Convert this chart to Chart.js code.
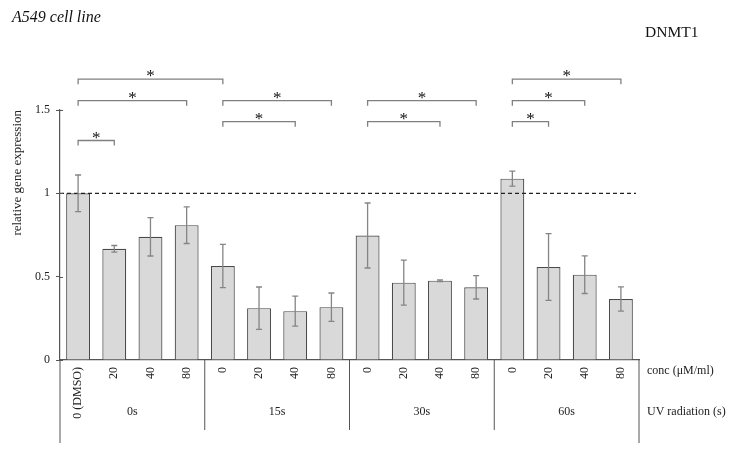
<!DOCTYPE html>
<html>
<head>
<meta charset="utf-8">
<script src="https://cdn.jsdelivr.net/npm/chart.js@4.4.1/dist/chart.umd.min.js"></script>
<style>
body { margin: 0; background: #fff; }
</style>
</head>
<body>
<canvas id="chart" width="737" height="452"></canvas>
<script>
// data
const concLabels = ['0 (DMSO)', '20', '40', '80', '0', '20', '40', '80', '0', '20', '40', '80', '0', '20', '40', '80'];
const uvGroups = ['0s', '15s', '30s', '60s'];
const expression = [1.00, 0.667, 0.739, 0.809, 0.564, 0.311, 0.293, 0.317, 0.747, 0.464, 0.476, 0.436, 1.088, 0.558, 0.512, 0.366];
const errors = [0.11, 0.02, 0.115, 0.11, 0.13, 0.127, 0.09, 0.085, 0.195, 0.135, 0.005, 0.07, 0.045, 0.2, 0.113, 0.073];
const yTicks = [0, 0.5, 1, 1.5];
const refLevel = 1;
// significance brackets: [from bar, to bar, height]
const brackets = [
    [0, 4, 1.685], [0, 3, 1.556], [0, 1, 1.317],
    [4, 7, 1.556], [4, 6, 1.43],
    [8, 11, 1.556], [8, 10, 1.43],
    [12, 15, 1.685], [12, 14, 1.556], [12, 13, 1.43]
];

const serif = "'Liberation Serif', 'DejaVu Serif', serif";

const extras = {
    id: 'extras',
    afterDatasetsDraw(chart) {
        const ctx = chart.ctx;
        const a = chart.chartArea;
        const x = chart.scales.x, y = chart.scales.y;
        const bars = chart.getDatasetMeta(0).data;
        ctx.save();

        // reference line
        ctx.strokeStyle = '#222';
        ctx.lineWidth = 1.3;
        ctx.setLineDash([4, 3]);
        ctx.beginPath();
        ctx.moveTo(a.left, y.getPixelForValue(refLevel));
        ctx.lineTo(a.right - 3, y.getPixelForValue(refLevel));
        ctx.stroke();
        ctx.setLineDash([]);

        // small inner tick marks on the y axis
        ctx.strokeStyle = '#555';
        ctx.lineWidth = 1;
        ctx.beginPath();
        yTicks.forEach(function (v) {
            const py = Math.round(y.getPixelForValue(v)) + 0.5;
            ctx.moveTo(a.left, py); ctx.lineTo(a.left + 3, py);
        });
        ctx.stroke();

        // error bars
        ctx.strokeStyle = '#858585';
        ctx.lineWidth = 1.3;
        bars.forEach(function (bar, i) {
            const hi = y.getPixelForValue(expression[i] + errors[i]);
            const lo = y.getPixelForValue(expression[i] - errors[i]);
            ctx.beginPath();
            ctx.moveTo(bar.x, hi); ctx.lineTo(bar.x, lo);
            ctx.moveTo(bar.x - 3, hi); ctx.lineTo(bar.x + 3, hi);
            ctx.moveTo(bar.x - 3, lo); ctx.lineTo(bar.x + 3, lo);
            ctx.stroke();
        });

        // significance brackets
        ctx.strokeStyle = '#808080';
        ctx.fillStyle = '#111';
        ctx.font = '17px ' + serif;
        ctx.textAlign = 'center';
        ctx.textBaseline = 'alphabetic';
        brackets.forEach(function (b) {
            const x0 = x.getPixelForValue(b[0]);
            const x1 = x.getPixelForValue(b[1]);
            const yy = y.getPixelForValue(b[2]);
            ctx.beginPath();
            ctx.moveTo(x0, yy + 5); ctx.lineTo(x0, yy);
            ctx.lineTo(x1, yy); ctx.lineTo(x1, yy + 5);
            ctx.stroke();
            ctx.fillText('*', (x0 + x1) / 2, yy + 2);
        });

        // group dividers under the axis
        ctx.strokeStyle = '#555';
        ctx.lineWidth = 1;
        ctx.beginPath();
        [a.left, a.right].forEach(function (px) {
            ctx.moveTo(px, a.bottom); ctx.lineTo(px, a.bottom + 83);
        });
        for (let g = 1; g < uvGroups.length; g++) {
            const px = (x.getPixelForValue(g * 4 - 1) + x.getPixelForValue(g * 4)) / 2;
            ctx.moveTo(px, a.bottom); ctx.lineTo(px, a.bottom + 70);
        }
        ctx.stroke();

        // group names
        ctx.fillStyle = '#222';
        ctx.font = '12px ' + serif;
        ctx.textBaseline = 'middle';
        uvGroups.forEach(function (name, g) {
            const px = (x.getPixelForValue(g * 4 + 1) + x.getPixelForValue(g * 4 + 2)) / 2;
            ctx.fillText(name, px, a.bottom + 52);
        });

        // row captions on the right
        ctx.textAlign = 'left';
        ctx.fillText('conc (\u03bcM/ml)', a.right + 8, a.bottom + 11);
        ctx.fillText('UV radiation (s)', a.right + 8, a.bottom + 52);

        // titles
        ctx.fillStyle = '#111';
        ctx.font = 'italic 16px ' + serif;
        ctx.fillText('A549 cell line', 12, 18);
        ctx.font = '15.5px ' + serif;
        ctx.fillText('DNMT1', 645, 33);
        ctx.restore();
    }
};

const ctx = document.getElementById('chart').getContext('2d');
const myChart = new Chart(ctx, {
    type: 'bar',
    data: {
        labels: concLabels,
        datasets: [{
            data: expression,
            backgroundColor: '#d9d9d9',
            borderColor: '#4a4a4a',
            borderWidth: 1.2,
            barPercentage: 0.66,
            categoryPercentage: 1
        }]
    },
    options: {
        responsive: false,
        animation: false,
        layout: { padding: { top: 110, right: 98, left: 0, bottom: 0 } },
        plugins: { legend: { display: false }, tooltip: { enabled: false } },
        scales: {
            x: {
                afterFit: function (s) { s.height = 92; },
                grid: { display: false, drawTicks: false },
                border: { display: true, color: '#555', width: 1.2 },
                ticks: {
                    minRotation: 90, maxRotation: 90, autoSkip: false, padding: 7,
                    color: '#222', font: { family: serif, size: 12 }
                }
            },
            y: {
                min: 0, max: 1.5,
                afterFit: function (s) { s.width = 60; },
                afterBuildTicks: function (s) { s.ticks = yTicks.map(function (v) { return { value: v }; }); },
                grid: { drawOnChartArea: false, tickLength: 4, color: '#555' },
                border: { display: true, color: '#555', width: 1.2 },
                ticks: {
                    padding: 6, color: '#222', font: { family: serif, size: 12 },
                    callback: function (v) { return String(v); }
                },
                title: {
                    display: true, text: 'relative gene expression', align: 'end',
                    padding: { top: 10, bottom: 0 },
                    color: '#222', font: { family: serif, size: 13 }
                }
            }
        }
    },
    plugins: [extras]
});
</script>
</body>
</html>
